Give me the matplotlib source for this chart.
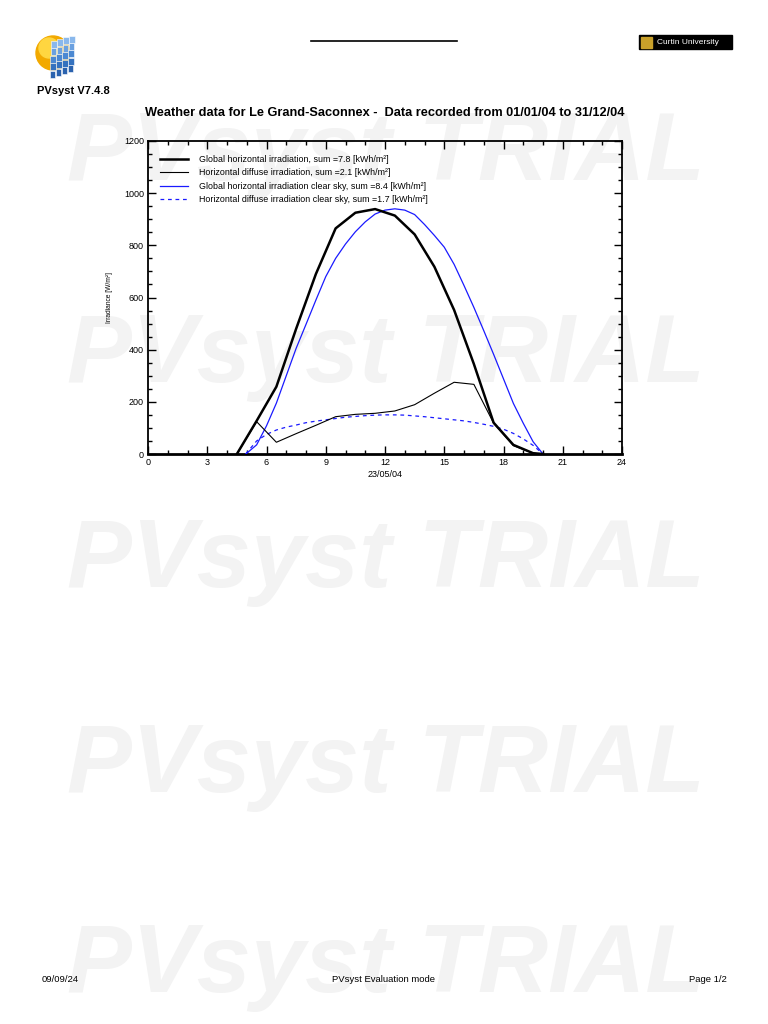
import matplotlib
matplotlib.use("Agg")
import matplotlib.pyplot as plt
from matplotlib.patches import Circle, Rectangle
from matplotlib.ticker import MultipleLocator

plt.rcParams['font.family'] = ['Liberation Sans', 'DejaVu Sans']

# ---- data ----
hours_meas = [4.5, 5.5, 6.5, 7.5, 8.5, 9.5, 10.5, 11.5, 12.5, 13.5, 14.5, 15.5, 16.5, 17.5, 18.5, 19.5, 20.0]
global_meas = [0, 127, 258, 480, 690, 865, 925, 939, 914, 842, 718, 552, 345, 120, 35, 3, 0]
diffuse_meas = [0, 124, 45, 78, 110, 143, 152, 156, 165, 189, 233, 275, 267, 118, 32, 3, 0]

hours_clear = [4.95, 5.0, 5.5, 6.0, 6.5, 7.0, 7.5, 8.0, 8.5, 9.0, 9.5, 10.0, 10.5, 11.0, 11.5, 12.0,
               12.5, 13.0, 13.5, 14.0, 14.5, 15.0, 15.5, 16.0, 16.5, 17.0, 17.5, 18.0, 18.5, 19.0,
               19.5, 20.0]
global_clear = [0, 3, 35, 108, 195, 300, 405, 497, 590, 680, 750, 805, 852, 890, 920, 935,
                940, 935, 918, 880, 838, 793, 727, 646, 562, 473, 382, 288, 194, 118, 47, 0]
diffuse_clear = [0, 5, 50, 75, 92, 103, 111, 120, 126, 131, 136, 141, 144, 147, 149, 150,
                 150, 149, 146, 143, 139, 135, 131, 127, 121, 114, 106, 95, 79, 58, 33, 0]

labels = ["Global horizontal irradiation, sum =7.8 [kWh/m²]",
          "Horizontal diffuse irradiation, sum =2.1 [kWh/m²]",
          "Global horizontal irradiation clear sky, sum =8.4 [kWh/m²]",
          "Horizontal diffuse irradiation clear sky, sum =1.7 [kWh/m²]"]

title = "Weather data for Le Grand-Saconnex -  Data recorded from 01/01/04 to 31/12/04"
x_label = "23/05/04"
y_label = "Irradiance [W/m²]"

W, H = 768, 1024
fig = plt.figure(figsize=(W / 100, H / 100), dpi=100)

def fx(x):
    return x / W

def fy(y):
    return 1 - y / H

# ---- watermark (lowest layer) ----
wm = fig.add_axes([0, 0, 1, 1], facecolor='none', zorder=-10)
wm.set_xlim(0, W)
wm.set_ylim(H, 0)
wm.axis('off')
for yc in [155, 357, 562, 767, 967]:
    wm.text(386, yc, "PVsyst TRIAL", fontsize=70, fontweight='bold', style='italic',
            color='#f3f3f3', ha='center', va='center')

# ---- header / footer ----
bg = fig.add_axes([0, 0, 1, 1], facecolor='none', zorder=-5)
bg.set_xlim(0, W)
bg.set_ylim(H, 0)
bg.axis('off')
bg.add_patch(Circle((53, 53), 17, color='#f2a900', zorder=2))
bg.add_patch(Circle((49, 48), 10, color='#ffd640', zorder=2))
panel_cols = ['#8ab8ec', '#6aa0e0', '#4b88d2', '#3572bf', '#2a62ae']
for r in range(5):
    for c in range(4):
        x0 = 51 + c * 6.0 - r * 0.3
        y0 = 41 + r * 7.4 - c * 1.8
        bg.add_patch(Rectangle((x0, y0), 5.6, 7.0, facecolor=panel_cols[r], edgecolor='white',
                               lw=0.4, zorder=3))
bg.plot([311, 457], [41, 41], color='black', lw=1.2)
bg.add_patch(Rectangle((639, 35), 93, 14, color='black', zorder=2))
bg.add_patch(Rectangle((641, 36.5), 11, 11, color='#c8a02a', zorder=3))
bg.text(657, 42.3, "Curtin University", color='white', fontsize=6, va='center', ha='left', zorder=4)
bg.text(37, 91, "PVsyst V7.4.8", fontsize=8, fontweight='bold', va='center', ha='left')
bg.text(385, 113, title, fontsize=9.2, fontweight='bold', va='center', ha='center')
bg.text(42, 980, "09/09/24", fontsize=6.8, va='center', ha='left')
bg.text(384, 980, "PVsyst Evaluation mode", fontsize=6.8, va='center', ha='center')
bg.text(727, 980, "Page 1/2", fontsize=6.8, va='center', ha='right')

# ---- chart ----
ax = fig.add_axes([fx(148), fy(454), fx(622) - fx(148), (454 - 141) / H], facecolor='none', zorder=1)
ax.plot(hours_meas, global_meas, color='black', lw=1.8, label=labels[0], zorder=4)
ax.plot(hours_meas, diffuse_meas, color='black', lw=0.8, label=labels[1], zorder=4)
ax.plot(hours_clear, global_clear, color='#1a1aff', lw=0.9, label=labels[2], zorder=3)
ax.plot(hours_clear, diffuse_clear, color='#1a1aff', lw=0.9, ls=(0, (3, 3)), label=labels[3], zorder=3)

ax.set_xlim(0, 24)
ax.set_ylim(0, 1200)
ax.xaxis.set_major_locator(MultipleLocator(3))
ax.xaxis.set_minor_locator(MultipleLocator(1))
ax.yaxis.set_major_locator(MultipleLocator(200))
ax.yaxis.set_minor_locator(MultipleLocator(50))
ax.tick_params(which='both', direction='in', top=True, right=True, labelsize=6.5, width=1.0, pad=3)
ax.tick_params(which='major', length=6)
ax.tick_params(which='minor', length=3)
for s in ax.spines.values():
    s.set_linewidth(1.3)
ax.spines['bottom'].set_linewidth(2.0)
ax.set_xlabel(x_label, fontsize=6.5, labelpad=2)
ax.set_ylabel(y_label, fontsize=4.8, labelpad=8)

leg = ax.legend(loc='upper left', bbox_to_anchor=(0.012, 0.975), frameon=False, fontsize=6.4,
                handlelength=3.2, handletextpad=1.2, labelspacing=0.5, borderaxespad=0.3)

fig.savefig("out.png", dpi=100)
